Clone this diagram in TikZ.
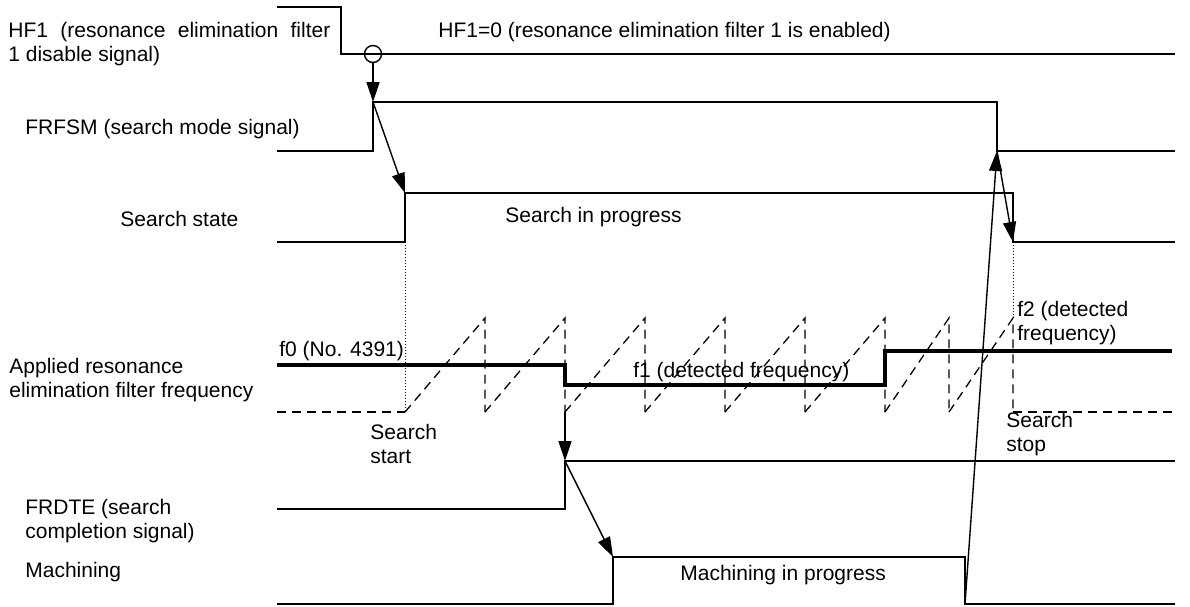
\documentclass[tikz,border=0pt]{standalone}
\usepackage{fontspec}
\setmainfont{Liberation Sans}
\usetikzlibrary{arrows.meta, positioning, calc}
\tikzset{
    sig/.style={line width=0.7pt},
    freq/.style={line width=2pt},
    sweep/.style={line width=0.65pt, dash pattern=on 4.5pt off 3pt},
    guide/.style={line width=0.5pt, dash pattern=on 0.5pt off 1pt},
    cause/.style={-{Triangle[length=10pt,width=6.5pt]}, line width=0.7pt},
    ring/.style={circle, draw, line width=0.7pt, minimum size=8.5pt, inner sep=0pt},
    lbl/.style={anchor=base west, inner sep=0pt, align=left,
                font=\fontsize{10.5}{12}\selectfont},
}

\begin{document}
\begin{tikzpicture}[x=0.5pt, y=-0.5pt]
    \useasboundingbox (0,0) rectangle (1190,606);
    \coordinate (frfsmup) at (373,102);
    \coordinate (srchup) at (405,193);
    \coordinate (f0step) at (565,412);
    \coordinate (frdteup) at (565,461);
    \coordinate (machup) at (613,557);
    \coordinate (machdown) at (965,604);
    \coordinate (frfsmdown) at (997,151);
    \coordinate (srchdown) at (1013,242);

    \draw[sig] (277,7) -| (341,54) -- (1175,54);
    \node[ring] (hfring) at (373,54) {};
    \draw[sig] (277,151) -| (frfsmup) -- (997,102) |- (1175,151);
    \draw[sig] (277,242) -| (srchup) -- (1013,193) |- (1175,242);
    \draw[freq] (277,365) -| (565,385) -| (885,351) -- (1172,351);
    \draw[sweep] (277,412) -- (405,412);
    \foreach \a/\b in {405/485, 485/565, 565/645, 645/725, 725/805, 805/885, 885/949, 949/1013}
        \draw[sweep] (\a,412) -- (\b,318) -- (\b,412);
    \draw[sweep] (1013,412) -- (1175,412);
    \draw[guide] (405,242) -- (405,412);
    \draw[guide] (1013,242) -- (1013,318);
    \draw[sig] (277,509) -| (frdteup) -- (1175,461);
    \draw[sig] (277,604) -| (machup) -- (965,557) |- (1175,604);

    \draw[cause] (hfring) -- (frfsmup);
    \draw[cause] (frfsmup) -- (srchup);
    \draw[cause] (f0step) -- (frdteup);
    \draw[cause] (frdteup) -- (machup);
    \draw[cause] (machdown) -- (frfsmdown);
    \draw[cause] (frfsmdown) -- (srchdown);

    \node[lbl] (hf1name) at (8,61) {\makebox[161pt][s]{HF1 (resonance elimination filter}\\1 disable signal)};
    \node[lbl] (hf1on) at (438,37) {HF1=0 (resonance elimination filter 1 is enabled)};
    \node[lbl] (frfsmname) at (25,134) {FRFSM (search mode signal)};
    \node[lbl] (srchname) at (120,226) {Search state};
    \node[lbl] (srchtxt) at (505,222) {Search in progress};
    \node[lbl] (freqname) at (9,397) {Applied resonance\\elimination filter frequency};
    \node[lbl] (f0txt) at (279,356) {f0 (No. 4391)};
    \node[lbl] (f1txt) at (633,377) {f1 (detected frequency)};
    \node[lbl] (f2txt) at (1017,340) {f2 (detected\\frequency)};
    \node[lbl] (starttxt) at (370,463) {Search\\start};
    \node[lbl] (stoptxt) at (1006,451) {Search\\stop};
    \node[lbl] (frdtename) at (25,538) {FRDTE (search\\completion signal)};
    \node[lbl] (machname) at (25,577) {Machining};
    \node[lbl] (machtxt) at (680,580) {Machining in progress};
\end{tikzpicture}
\end{document}
